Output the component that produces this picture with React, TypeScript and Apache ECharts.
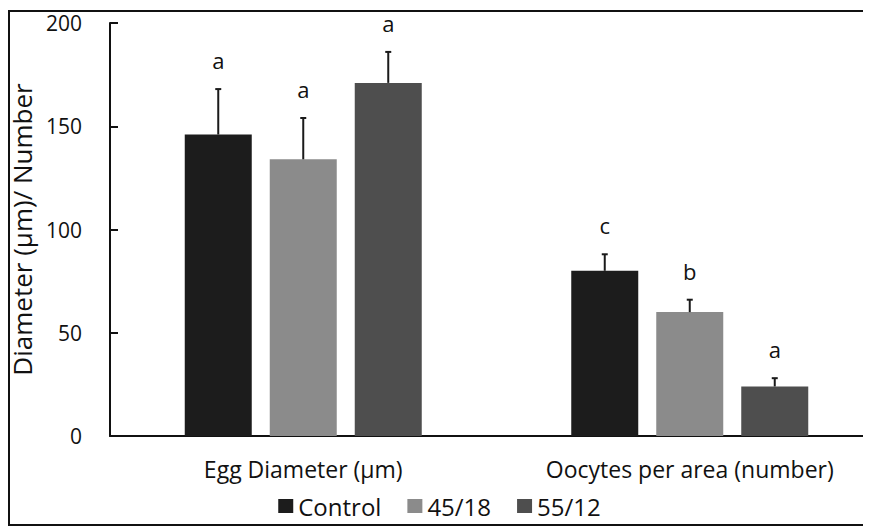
import React, { useEffect, useRef } from "react";
import * as echarts from "echarts";

const categories = ["Egg Diameter (µm)", "Oocytes per area (number)"];
const treatments = ["Control", "45/18", "55/12"];
const controlValues = [146, 80];
const t4518Values = [134, 60];
const t5512Values = [171, 24];
const controlErrors = [22, 8];
const t4518Errors = [20, 6];
const t5512Errors = [15, 4];
const controlLetters = ["a", "c"];
const t4518Letters = ["a", "b"];
const t5512Letters = ["a", "a"];
const yTicks = [0, 50, 100, 150, 200];

const colors = ["#1c1c1c", "#8b8b8b", "#4e4e4e"];
const FONT = "'Open Sans'";
const BAR_W = 67;
const BAR_GAP = 18;

export default function App() {
  const ref = useRef<HTMLDivElement>(null);
  useEffect(() => {
    if (!ref.current) return;
    const chart = echarts.init(ref.current, undefined, { renderer: "svg" });
    const values = [controlValues, t4518Values, t5512Values];
    const errors = [controlErrors, t4518Errors, t5512Errors];
    const letters = [controlLetters, t4518Letters, t5512Letters];

    const barSeries = treatments.map((name, i) => ({
      name,
      type: "bar",
      data: values[i],
      barWidth: BAR_W,
      barGap: (BAR_GAP / BAR_W) * 100 + "%",
      itemStyle: { color: colors[i] },
      z: 2,
    }));

    const errSeries = treatments.map((name, i) => ({
      name: name + "_err",
      type: "custom",
      z: 3,
      silent: true,
      data: values[i].map((v, j) => [j, v, errors[i][j]]),
      renderItem: (params: any, api: any) => {
        const x = api.value(0);
        const m = api.value(1);
        const e = api.value(2);
        const off = (i - 1) * (BAR_W + BAR_GAP);
        const p1 = api.coord([x, m]);
        const p2 = api.coord([x, m + e]);
        const cx = p1[0] + off;
        return {
          type: "group",
          children: [
            {
              type: "line",
              shape: { x1: cx, y1: p1[1], x2: cx, y2: p2[1] },
              style: { stroke: "#1a1a1a", lineWidth: 2 },
            },
            {
              type: "line",
              shape: { x1: cx - 3, y1: p2[1], x2: cx + 3, y2: p2[1] },
              style: { stroke: "#1a1a1a", lineWidth: 2 },
            },
            {
              type: "text",
              style: {
                text: letters[i][params.dataIndex],
                x: cx,
                y: p2[1] - 29,
                align: "center",
                verticalAlign: "middle",
                fill: "#111",
                fontSize: 22,
                fontFamily: FONT,
              },
            },
          ],
        };
      },
    }));

    chart.setOption({
      animation: false,
      textStyle: { fontFamily: FONT },
      grid: {
        left: 102,
        right: -12,
        top: 15,
        bottom: 91,
        containLabel: false,
        outerBoundsMode: "none",
      },
      legend: {
        data: treatments,
        top: 481,
        left: "center",
        icon: "rect",
        itemWidth: 15,
        itemHeight: 14,
        itemGap: 26,
        textStyle: { fontSize: 24, color: "#111", fontFamily: FONT },
      },
      xAxis: {
        type: "category",
        data: categories,
        axisLine: { lineStyle: { color: "#111", width: 2 } },
        axisTick: { show: false },
        axisLabel: { interval: 0, fontSize: 23, color: "#111", margin: 21, fontFamily: FONT },
      },
      yAxis: {
        type: "value",
        min: yTicks[0],
        max: yTicks[yTicks.length - 1],
        interval: 50,
        name: "Diameter (µm)/ Number",
        nameLocation: "middle",
        nameGap: 72,
        nameTextStyle: { fontSize: 26, lineHeight: 26, color: "#111", fontFamily: FONT },
        axisLine: { show: true, lineStyle: { color: "#111", width: 2 } },
        axisTick: { show: true, inside: true, length: 8, lineStyle: { color: "#111", width: 2 } },
        splitLine: { show: false },
        axisLabel: { fontSize: 21, color: "#111", margin: 28, fontFamily: FONT },
      },
      graphic: [
        {
          type: "rect",
          shape: { x: 1, y: 3, width: 860, height: 514 },
          style: { fill: "none", stroke: "#111", lineWidth: 2 },
          z: 10,
          silent: true,
        },
      ],
      series: [...barSeries, ...errSeries],
    });
    return () => chart.dispose();
  }, []);
  return <div ref={ref} style={{ width: 863, height: 519, background: "#fff" }} />;
}
